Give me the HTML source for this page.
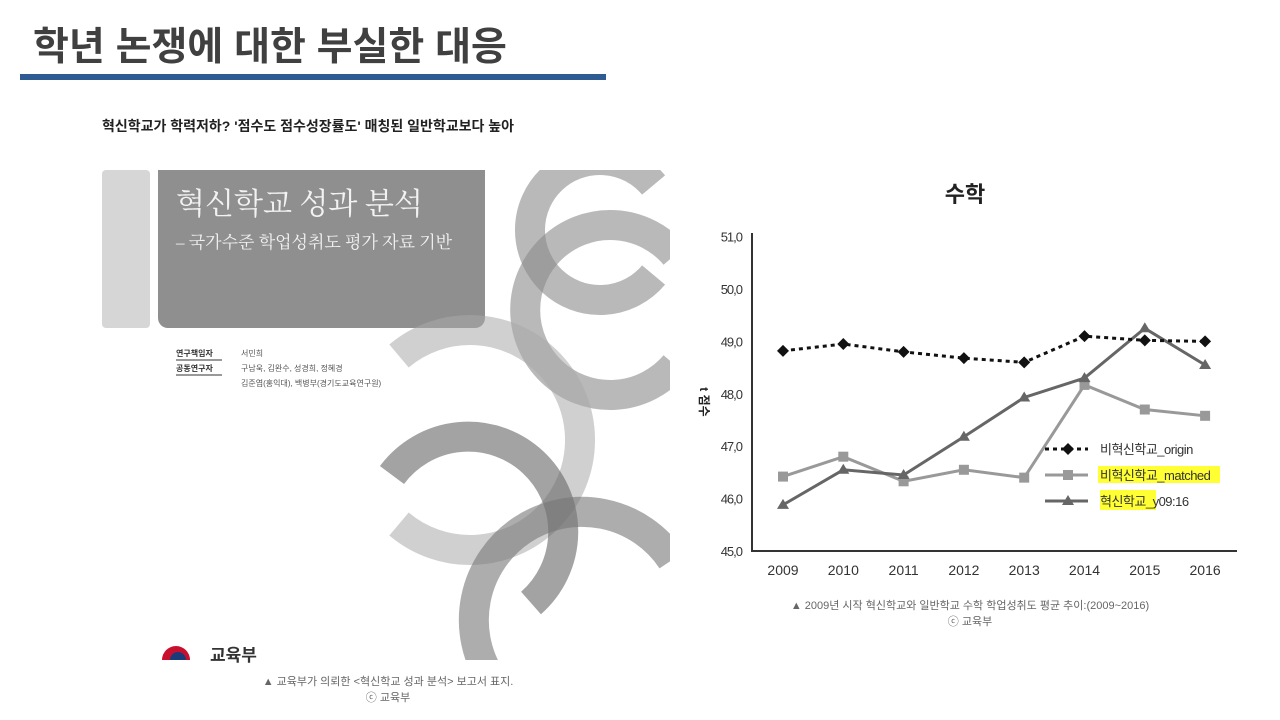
<!DOCTYPE html>
<html><head><meta charset="utf-8"><style>
body{margin:0;width:1280px;height:720px;background:#fff;position:relative;overflow:hidden;font-family:"Liberation Sans","Noto Sans CJK KR",sans-serif}
.abs{position:absolute}
</style></head><body>
<div class="abs" style="left:33px;top:16px;font-size:39px;font-weight:bold;color:#404040;font-family:'Liberation Sans','Noto Sans CJK KR',sans-serif;letter-spacing:0px">학년 논쟁에 대한 부실한 대응</div>
<div class="abs" style="left:20px;top:74px;width:586px;height:6px;background:#2f5b93"></div>
<div class="abs" style="left:102px;top:116px;font-size:14px;color:#222;font-weight:bold">혁신학교가 학력저하? '점수도 점수성장률도' 매칭된 일반학교보다 높아</div>

<svg class="abs" style="left:0;top:0" width="1280" height="720">
 <defs><clipPath id="cc"><rect x="102" y="170" width="568" height="490"/></clipPath></defs>
 <g clip-path="url(#cc)">
  <rect x="102" y="170" width="48" height="158" rx="4" fill="#d6d6d6"/>
  <path d="M158 170 H485 V318 a10 10 0 0 1 -10 10 H168 a10 10 0 0 1 -10 -10 Z" fill="#8f8f8f"/>
  <g fill="none" stroke-width="30">
   <path d="M653.6 185 A70 70 0 1 0 653.6 275" stroke="#8a8a8a" stroke-opacity="0.6"/>
   <path d="M675 255 A85 85 0 1 0 675 365" stroke="#8a8a8a" stroke-opacity="0.6"/>
   <path d="M399 356 A110 110 0 1 1 399 524" stroke="#aaa" stroke-opacity="0.55"/>
   <path d="M392 475 A95 95 0 1 1 531 603" stroke="#666" stroke-opacity="0.6"/>
   <path d="M492 680 A100 100 0 0 1 672 560" stroke="#777" stroke-opacity="0.6"/>
  </g>
 </g>
 <text x="176" y="214" font-size="30" fill="#f2f2f2" font-family="Liberation Serif,Noto Serif CJK SC,serif">혁신학교 성과 분석</text>
 <text x="176" y="248" font-size="17" fill="#f2f2f2" font-family="Liberation Serif,Noto Serif CJK SC,serif">– 국가수준 학업성취도 평가 자료 기반</text>
 <text x="176" y="356" font-size="8" font-weight="bold" fill="#333">연구책임자</text>
 <line x1="176" y1="360" x2="222" y2="360" stroke="#333"/>
 <text x="176" y="371" font-size="8" font-weight="bold" fill="#333">공동연구자</text>
 <line x1="176" y1="375" x2="222" y2="375" stroke="#333"/>
 <text x="241" y="356" font-size="8" fill="#555">서민희</text>
 <text x="241" y="371" font-size="8" fill="#555">구남욱, 김완수, 성경희, 정혜경</text>
 <text x="241" y="386" font-size="8" fill="#555">김준엽(홍익대), 백병부(경기도교육연구원)</text>
 <path d="M162 660 a14 14 0 0 1 28 0" fill="#c8102e"/>
 <path d="M170 660 a8 8 0 0 1 16 0" fill="#1a3b7a"/>
 <text x="210" y="661" font-size="17" font-weight="bold" fill="#333">교육부</text>
</svg>
<div class="abs" style="left:0;width:776px;top:674px;text-align:center;font-size:11px;color:#666;line-height:16px">▲ 교육부가 의뢰한 &lt;혁신학교 성과 분석&gt; 보고서 표지.<br>ⓒ 교육부</div>

<svg class="abs" id="chart" style="left:0;top:0" width="1280" height="720"></svg>
<div class="abs" style="left:720px;width:500px;top:598px;text-align:center;font-size:11px;color:#666;line-height:16px">▲ 2009년 시작 혁신학교와 일반학교 수학 학업성취도 평균 추이:(2009~2016)<br>ⓒ 교육부</div>

<script>
const years=['2009','2010','2011','2012','2013','2014','2015','2016'];
const yTicks=[45,46,47,48,49,50,51];
const origin=[48.82,48.95,48.8,48.68,48.6,49.1,49.02,49.0];
const matched=[46.42,46.8,46.33,46.55,46.4,48.17,47.7,47.58];
const innov=[45.88,46.55,46.45,47.18,47.93,48.3,49.25,48.55];
const NS='http://www.w3.org/2000/svg';
const svg=document.getElementById('chart');
const x0=783,dx=60.3,yBase=551,pxU=52.4;
const xs=i=>x0+i*dx, ys=v=>yBase-(v-45)*pxU;
function mk(t,a,p){const e=document.createElementNS(NS,t);for(const k in a)e.setAttribute(k,a[k]);(p||svg).appendChild(e);return e;}
let e=mk('text',{x:965,y:202,'font-size':22,'font-weight':'bold','text-anchor':'middle',fill:'#222'});e.textContent='수학';


e=mk('path',{d:'M752 233 V'+yBase+' H1237',stroke:'#333','stroke-width':2,fill:'none'});


yTicks.forEach(v=>{const t=mk('text',{x:742,y:ys(v)+5,'font-size':13,'text-anchor':'end',fill:'#333','letter-spacing':'-1'});t.textContent=v.toFixed(1).replace('.',',');

});
years.forEach((y,i)=>{const t=mk('text',{x:xs(i),y:575,'font-size':14,'text-anchor':'middle',fill:'#333'});t.textContent=y;

});
e=mk('text',{x:700,y:402,'font-size':12,'font-weight':'bold',fill:'#222',transform:'rotate(90 700 402)','text-anchor':'middle'});e.textContent='t 점수';


function diamond(g,x,y,c){mk('path',{d:`M${x} ${y-6}L${x+6} ${y}L${x} ${y+6}L${x-6} ${y}Z`,fill:c},g);}
function square(g,x,y,c){mk('rect',{x:x-5,y:y-5,width:10,height:10,fill:c},g);}
function tri(g,x,y,c){mk('path',{d:`M${x} ${y-6}L${x+6} ${y+4}L${x-6} ${y+4}Z`,fill:c},g);}
const series=[
 {d:matched,c:'#999',dash:'',m:square,name:'series-matched',lab:'비혁신학교_matched'},
 {d:innov,c:'#666',dash:'',m:tri,name:'series-innovation',lab:'혁신학교_y09:16'},
 {d:origin,c:'#111',dash:'4 4',m:diamond,name:'series-origin',lab:'비혁신학교_origin'}];
series.forEach(s=>{const g=mk('g',{});


mk('polyline',{points:s.d.map((v,i)=>xs(i)+','+ys(v)).join(' '),fill:'none',stroke:s.c,'stroke-width':3,'stroke-dasharray':s.dash},g);
s.d.forEach((v,i)=>s.m(g,xs(i),ys(v),s.c));});
mk('rect',{x:1098,y:466,width:122,height:17,fill:'#ffff33'});
mk('rect',{x:1100,y:490,width:56,height:20,fill:'#ffff33'});
const leg=[[series[2],449],[series[0],475],[series[1],501]];
leg.forEach(([s,y])=>{const g=mk('g',{});


mk('line',{x1:1045,y1:y,x2:1088,y2:y,stroke:s.c,'stroke-width':3,'stroke-dasharray':s.dash},g);
s.m(g,1068,y,s.c);
const t=mk('text',{x:1100,y:y+5,'font-size':13,fill:'#333','letter-spacing':'-0.5'},g);t.textContent=s.lab;});
</script>
</body></html>
